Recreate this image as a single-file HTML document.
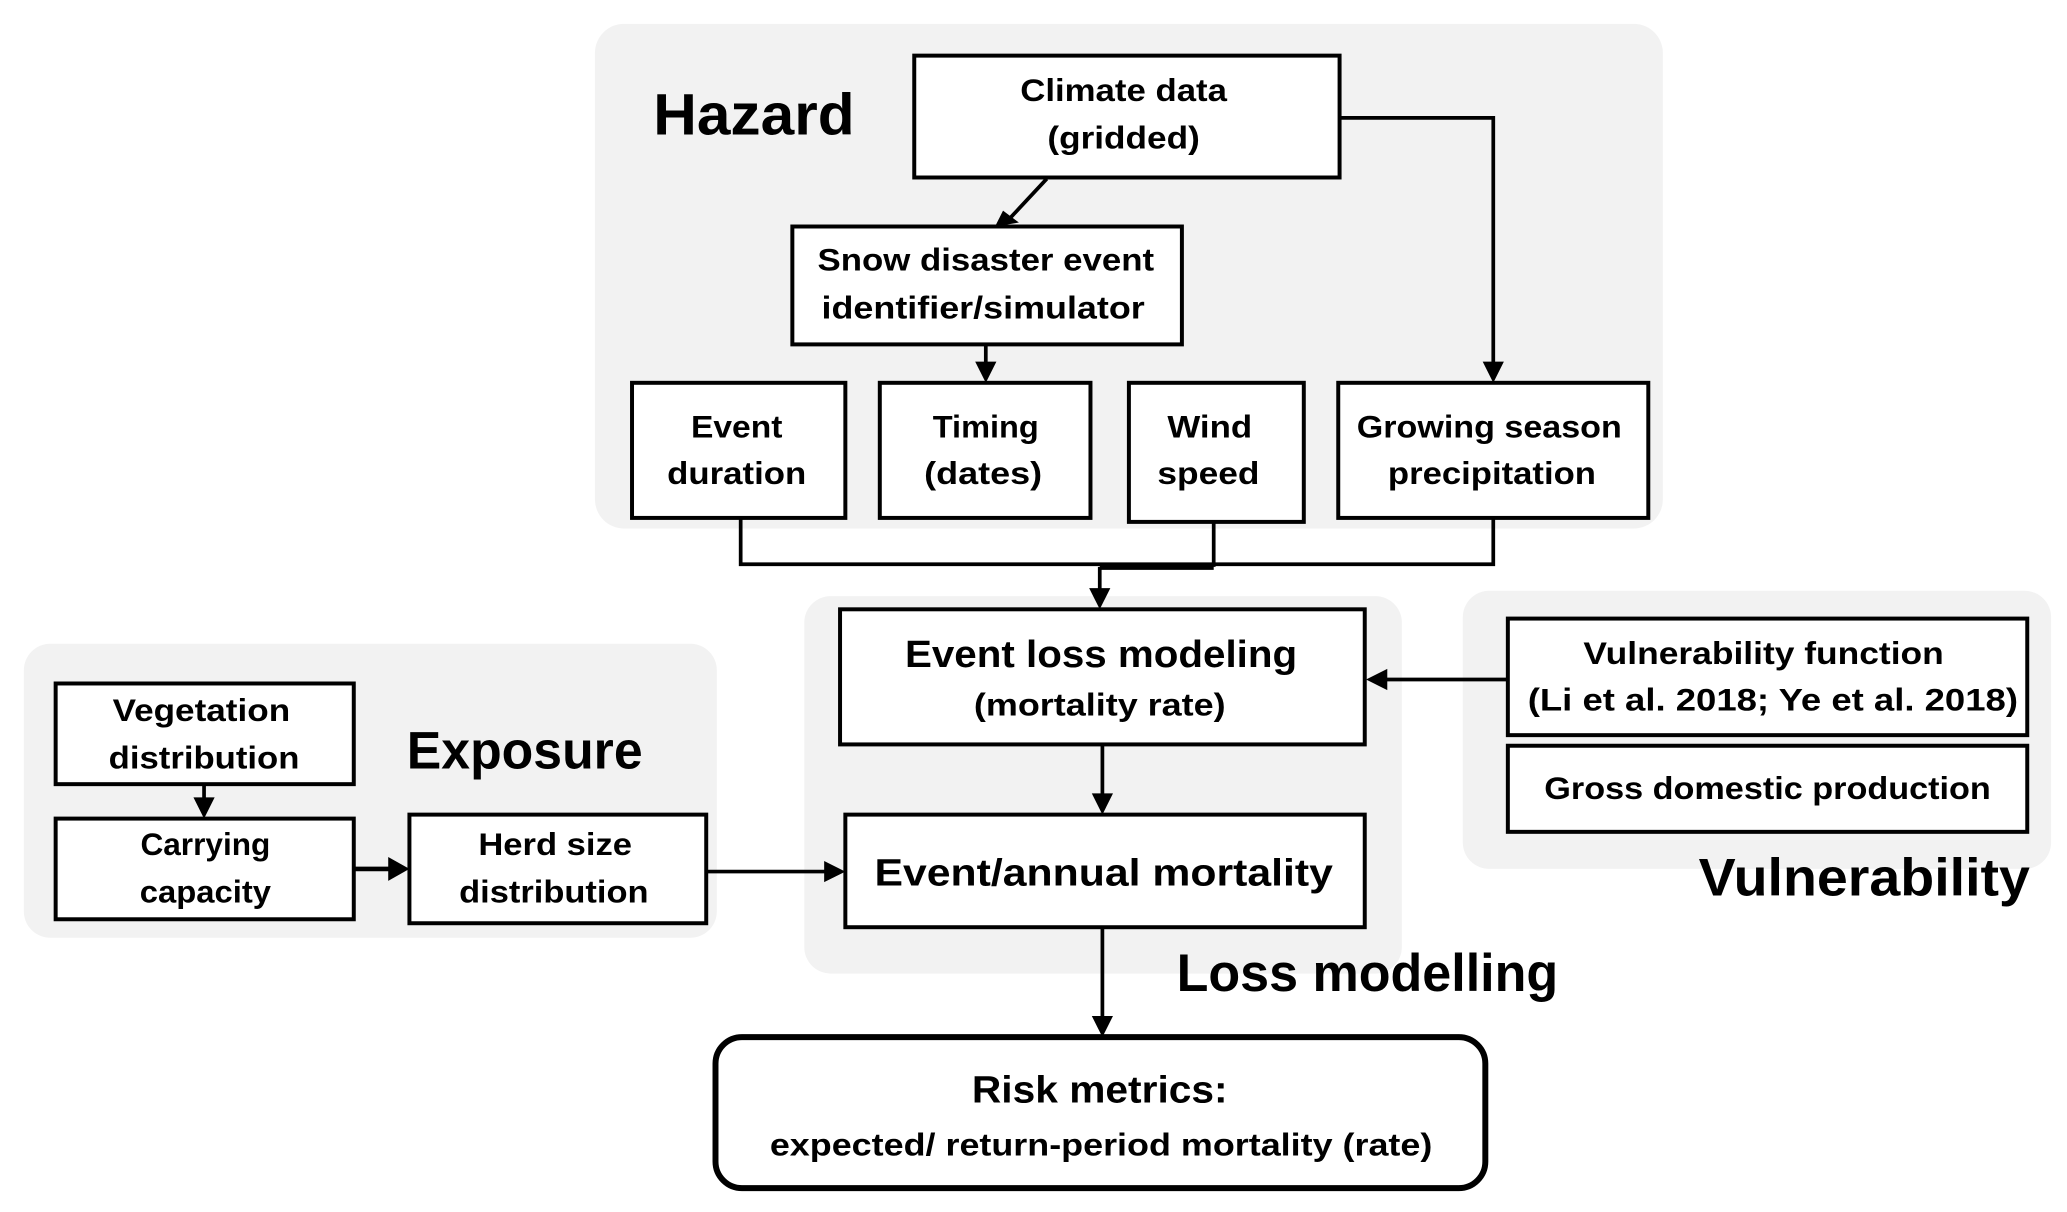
<!DOCTYPE html>
<html><head><meta charset="utf-8"><style>
html,body{margin:0;padding:0;background:#fff;}
svg{display:block;}
text{font-family:"Liberation Sans",sans-serif;font-weight:bold;fill:#000;dominant-baseline:central;}
</style></head><body>
<svg width="2067" height="1212" viewBox="0 0 1560 915" preserveAspectRatio="none" xmlns="http://www.w3.org/2000/svg">
<!-- backgrounds -->
<rect x="449" y="18" width="806" height="381" rx="22" fill="#f2f2f2"/>
<rect x="18" y="486" width="523" height="222" rx="20" fill="#f2f2f2"/>
<rect x="607" y="450" width="451" height="285" rx="20" fill="#f2f2f2"/>
<rect x="1104" y="446" width="444" height="210" rx="20" fill="#f2f2f2"/>

<g fill="#fff" stroke="#000" stroke-width="3">
<rect x="690" y="42" width="321" height="92"/>
<rect x="598" y="171" width="294" height="89"/>
<rect x="477" y="289" width="161" height="102"/>
<rect x="664" y="289" width="159" height="102"/>
<rect x="852" y="289" width="132" height="105"/>
<rect x="1010" y="289" width="234" height="102"/>
<rect x="634" y="460" width="396" height="102"/>
<rect x="638" y="615" width="392" height="85"/>
<rect x="1138" y="467" width="392" height="88"/>
<rect x="1138" y="563" width="392" height="65"/>
<rect x="42" y="516" width="225" height="76"/>
<rect x="42" y="618" width="225" height="76"/>
<rect x="309" y="615" width="224" height="82"/>
<rect x="540" y="783" width="581" height="114" rx="20" stroke-width="4.5"/>
</g>

<!-- connectors -->
<g stroke="#000" stroke-width="2.8" fill="none">
<line x1="790" y1="135" x2="762" y2="165"/>
<line x1="744" y1="261" x2="744" y2="276"/>
<polyline points="1011,89 1127,89 1127,276"/>
<polyline points="559,391 559,426 1127,426 1127,391"/>
<line x1="916" y1="394" x2="916" y2="428"/>
<line x1="830" y1="428" x2="916" y2="428" stroke-width="4.5"/>
<line x1="830" y1="428" x2="830" y2="447"/>
<line x1="832" y1="563" x2="832" y2="602"/>
<line x1="1138" y1="513" x2="1044" y2="513"/>
<line x1="154" y1="592" x2="154" y2="605"/>
<line x1="267" y1="656" x2="296" y2="656" stroke-width="3.5"/>
<line x1="533" y1="658" x2="625" y2="658"/>
<line x1="832" y1="700" x2="832" y2="770"/>
</g>
<g fill="#000">
<polygon points="751,171 757,159 769,168"/>
<polygon points="744,289 736,273 752,273"/>
<polygon points="1127,289 1119,273 1135,273"/>
<polygon points="830,460 822,444 838,444"/>
<polygon points="832,615 824,599 840,599"/>
<polygon points="1031,513 1047,505 1047,521"/>
<polygon points="154,618 146,602 162,602"/>
<polygon points="309,656 293,647 293,665"/>
<polygon points="638,658 622,650 622,666"/>
<polygon points="832,783 824,767 840,767"/>
</g>

<!-- labels -->
<text x="493" y="87" font-size="44" textLength="152" lengthAdjust="spacingAndGlyphs">Hazard</text>
<text x="307" y="567" font-size="40" textLength="178" lengthAdjust="spacingAndGlyphs">Exposure</text>
<text x="888" y="735" font-size="40" textLength="288" lengthAdjust="spacingAndGlyphs">Loss modelling</text>
<text x="1282" y="663" font-size="40" textLength="250" lengthAdjust="spacingAndGlyphs">Vulnerability</text>

<g font-size="24" text-anchor="middle">
<text x="848" y="68" textLength="156" lengthAdjust="spacingAndGlyphs">Climate  data</text>
<text x="848" y="104" textLength="115" lengthAdjust="spacingAndGlyphs">(gridded)</text>
<text x="744" y="196" textLength="254" lengthAdjust="spacingAndGlyphs">Snow disaster event</text>
<text x="742" y="232" textLength="244" lengthAdjust="spacingAndGlyphs">identifier/simulator</text>
<text x="556" y="322" textLength="69" lengthAdjust="spacingAndGlyphs">Event</text>
<text x="556" y="357" textLength="105" lengthAdjust="spacingAndGlyphs">duration</text>
<text x="744" y="322" textLength="80" lengthAdjust="spacingAndGlyphs">Timing</text>
<text x="742" y="357" textLength="89" lengthAdjust="spacingAndGlyphs">(dates)</text>
<text x="913" y="322" textLength="64" lengthAdjust="spacingAndGlyphs">Wind</text>
<text x="912" y="357" textLength="77" lengthAdjust="spacingAndGlyphs">speed</text>
<text x="1124" y="322" textLength="200" lengthAdjust="spacingAndGlyphs">Growing season</text>
<text x="1126" y="357" textLength="157" lengthAdjust="spacingAndGlyphs">precipitation</text>
<text x="831" y="494" font-size="29" textLength="296" lengthAdjust="spacingAndGlyphs">Event loss modeling</text>
<text x="830" y="532" textLength="190" lengthAdjust="spacingAndGlyphs">(mortality  rate)</text>
<text x="833" y="659" font-size="29" textLength="346" lengthAdjust="spacingAndGlyphs">Event/annual mortality</text>
<text x="1331" y="493" textLength="272" lengthAdjust="spacingAndGlyphs">Vulnerability  function</text>
<text x="1338" y="528" textLength="370" lengthAdjust="spacingAndGlyphs">(Li et al.  2018; Ye et al.  2018)</text>
<text x="1334" y="595" textLength="337" lengthAdjust="spacingAndGlyphs">Gross domestic production</text>
<text x="152" y="536" textLength="134" lengthAdjust="spacingAndGlyphs">Vegetation</text>
<text x="154" y="572" textLength="144" lengthAdjust="spacingAndGlyphs">distribution</text>
<text x="155" y="637" textLength="98" lengthAdjust="spacingAndGlyphs">Carrying</text>
<text x="155" y="673" textLength="99" lengthAdjust="spacingAndGlyphs">capacity</text>
<text x="419" y="637" textLength="116" lengthAdjust="spacingAndGlyphs">Herd size</text>
<text x="418" y="673" textLength="143" lengthAdjust="spacingAndGlyphs">distribution</text>
<text x="830" y="823" font-size="29" textLength="193" lengthAdjust="spacingAndGlyphs">Risk metrics:</text>
<text x="831" y="864" textLength="500" lengthAdjust="spacingAndGlyphs">expected/ return-period mortality (rate)</text>
</g>
</svg>
</body></html>
